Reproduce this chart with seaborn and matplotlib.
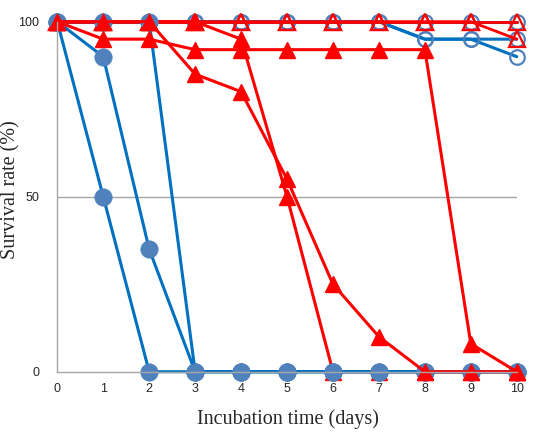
import seaborn as sns
import matplotlib.pyplot as plt

days = [0, 1, 2, 3, 4, 5, 6, 7, 8, 9, 10]

# open circles (blue)
open_circle_1 = [100, 100, 100, 100, 100, 100, 100, 100, 100, 100, 100]
open_circle_2 = [100, 100, 100, 100, 100, 100, 100, 100, 95, 95, 95]
open_circle_3 = [100, 100, 100, 100, 100, 100, 100, 100, 95, 95, 90]

# open triangles (red)
open_tri_1 = [100, 100, 100, 100, 100, 100, 100, 100, 100, 100, 100]
open_tri_2 = [100, 100, 100, 100, 100, 100, 100, 100, 100, 100, 95]

# filled circles (blue)
filled_circle_1 = [100, 50, 0, 0, 0, 0, 0, 0, 0, 0, 0]
filled_circle_2 = [100, 90, 35, 0, 0, 0, 0, 0, 0, 0, 0]
filled_circle_3 = [100, 100, 100, 0, 0, 0, 0, 0, 0, 0, 0]

# filled triangles (red)
filled_tri_1 = [100, 95, 95, 92, 92, 92, 92, 92, 92, 8, 0]
filled_tri_2 = [100, 100, 100, 100, 95, 50, 0, 0, 0, 0, 0]
filled_tri_3 = [100, 100, 100, 85, 80, 55, 25, 10, 0, 0, 0]

line_blue = "#0070C0"
marker_blue = "#4F81BD"
red = "#FF0000"
grey = "#A6A6A6"


def draw(ax, vals, color, marker, face, edge, ms, mew, lw):
    sns.lineplot(x=days, y=vals, ax=ax, color=color, marker=marker,
                 markersize=ms, markerfacecolor=face, markeredgecolor=edge,
                 markeredgewidth=mew, linewidth=lw, clip_on=False)


def main():
    sns.set_style("white")
    fig = plt.figure(figsize=(5.33, 4.42), dpi=100)
    ax = fig.add_axes([0.1075, 0.159, 0.862, 0.792])

    for vals in [open_circle_1, open_circle_2, open_circle_3]:
        draw(ax, vals, line_blue, "o", "none", marker_blue, 10.5, 1.6, 2.2)
    for vals in [open_tri_1, open_tri_2]:
        draw(ax, vals, red, "^", "none", red, 11.5, 1.6, 2.0)
    draw(ax, filled_tri_2, red, "^", red, red, 12, 1.0, 2.2)
    for vals in [filled_circle_1, filled_circle_2, filled_circle_3]:
        draw(ax, vals, line_blue, "o", marker_blue, marker_blue, 12.5, 0.5, 2.2)
    for vals in [filled_tri_1, filled_tri_3]:
        draw(ax, vals, red, "^", red, red, 12, 1.0, 2.2)

    ax.set_xlim(0, 10)
    ax.set_ylim(0, 100)
    ax.set_xticks(days)
    ax.set_yticks([0, 50, 100])
    for y in [50, 100]:
        ax.axhline(y, color=grey, linewidth=1.0, zorder=0)

    for side in ["top", "right"]:
        ax.spines[side].set_visible(False)
    for side in ["left", "bottom"]:
        ax.spines[side].set_color(grey)
        ax.spines[side].set_linewidth(1.0)
    ax.tick_params(axis="both", direction="out", length=4, width=1.0,
                   color=grey, labelsize=9)
    ax.tick_params(axis="y", pad=9)
    ax.tick_params(axis="x", pad=4)
    for lab in ax.get_xticklabels() + ax.get_yticklabels():
        lab.set_fontfamily("Liberation Sans")

    ax.set_xlabel("Incubation time (days)", fontfamily="Liberation Serif",
                  fontsize=14.5)
    ax.set_ylabel("Survival rate (%)", fontfamily="Liberation Serif",
                  fontsize=14.5)
    ax.xaxis.set_label_coords(0.501, -0.108)
    ax.yaxis.set_label_coords(-0.08, 0.52)

    fig.savefig("out.png", dpi=100)


if __name__ == "__main__":
    main()
